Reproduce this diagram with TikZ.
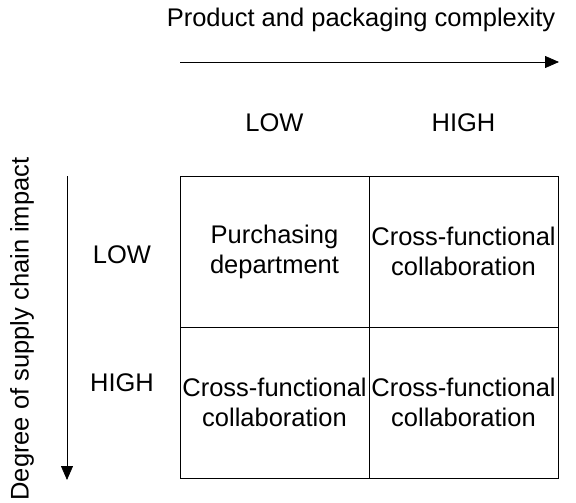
\documentclass[tikz,border=0pt]{standalone}
\usepackage{fontspec}
\setmainfont{Liberation Sans}
\usetikzlibrary{arrows.meta}

\tikzset{cell/.style={draw, line width=0.8pt, minimum width=189pt, minimum height=151pt, align=center, inner sep=0pt, font=\fontsize{25.5}{30}\selectfont}}
\tikzset{lbl/.style={font=\fontsize{25.5}{30}\selectfont, inner sep=0pt}}
\tikzset{axis/.style={line width=0.8pt, -{Triangle[length=14pt, width=12pt]}}}

\begin{document}
\begin{tikzpicture}[x=1pt, y=-1pt]
    \useasboundingbox (0,0) rectangle (576,503);

    \node[cell] (c11) at (274.5,251.5) {Purchasing\\department};
    \node[cell] (c12) at (463.5,251.5) {Cross-functional\\collaboration};
    \node[cell] (c21) at (274.5,402.5) {Cross-functional\\collaboration};
    \node[cell] (c22) at (463.5,402.5) {Cross-functional\\collaboration};

    \node[lbl] (collow) at ([yshift=129pt] c11.center) {LOW};
    \node[lbl] (colhigh) at ([yshift=129pt] c12.center) {HIGH};
    \node[lbl] (rowlow) at (122,255) {LOW};
    \node[lbl] (rowhigh) at (122,383) {HIGH};

    \node[lbl] (xtitle) at (361,20) {Product and packaging complexity};
    \node[lbl, rotate=90] (ytitle) at (22,329) {Degree of supply chain impact};

    \coordinate (xstart) at (180,62);
    \coordinate (xend) at (559,62);
    \coordinate (ystart) at (67,176);
    \coordinate (yend) at (67,480);

    \draw[axis] (xstart) -- (xend);
    \draw[axis] (ystart) -- (yend);
\end{tikzpicture}
\end{document}
